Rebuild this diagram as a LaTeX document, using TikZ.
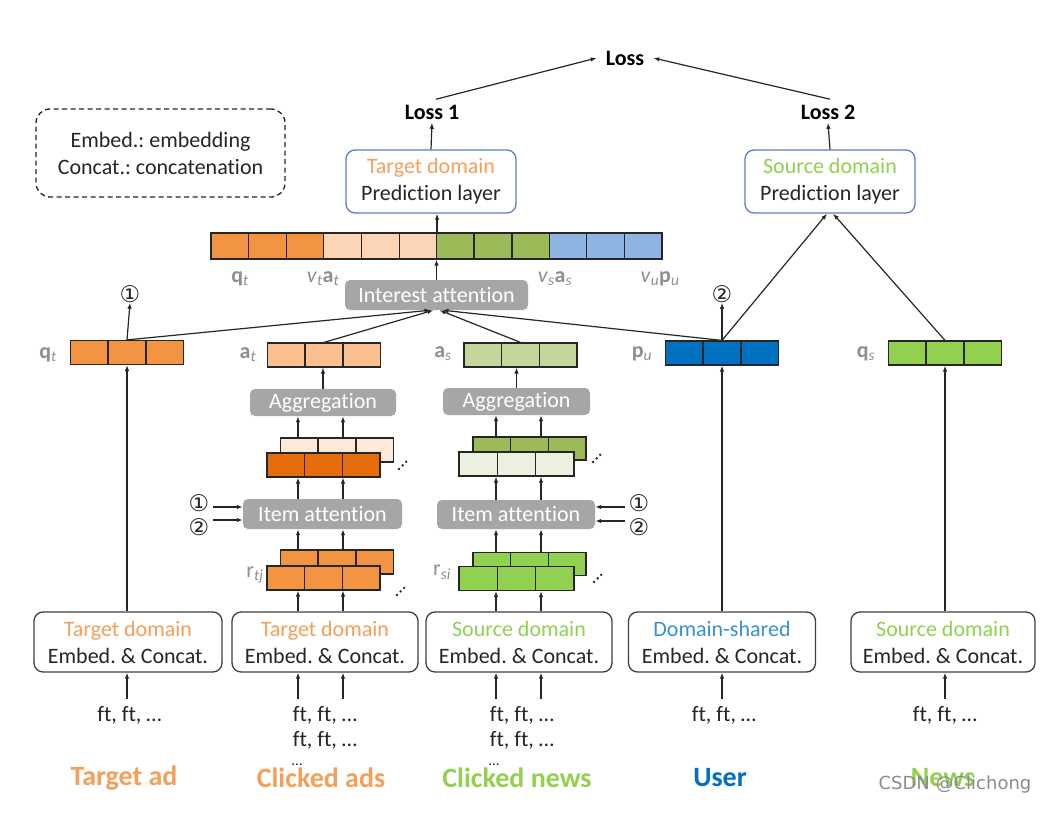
\documentclass[tikz,border=0pt]{standalone}
\usepackage{fontspec}
\setmainfont{Carlito}[Ligatures={NoCommon}]
\newfontfamily\djv{DejaVu Sans}
\frenchspacing
\usetikzlibrary{arrows.meta,calc}
\definecolor{orgA}{HTML}{F39442}
\definecolor{orgL}{HTML}{FAC090}
\definecolor{orgP}{HTML}{FBD5B5}
\definecolor{orgD}{HTML}{E46C0A}
\definecolor{orgVL}{HTML}{FDE9D9}
\definecolor{grnA}{HTML}{92D050}
\definecolor{grnB}{HTML}{9BBB59}
\definecolor{grnL}{HTML}{C3D69B}
\definecolor{grnVL}{HTML}{EBF1DE}
\definecolor{bluA}{HTML}{0070C0}
\definecolor{bluL}{HTML}{8DB4E2}
\definecolor{gbox}{HTML}{A6A6A6}
\definecolor{lblg}{HTML}{8F8F8F}
\definecolor{txo}{HTML}{F4A05A}
\definecolor{txg}{HTML}{92D050}
\definecolor{txb}{HTML}{3A8FD6}
\definecolor{bdr}{HTML}{5B7FBF}
\definecolor{dark}{HTML}{262626}
\newcommand\cellvec[6]{%
  \node[vecbox,fill=#4,minimum width=#5pt,minimum height=#6pt] (#1) at (#2,#3) {};
  \draw[vecl] ($(#1.south west)!0.3333!(#1.south east)$) -- ($(#1.north west)!0.3333!(#1.north east)$);
  \draw[vecl] ($(#1.south west)!0.6667!(#1.south east)$) -- ($(#1.north west)!0.6667!(#1.north east)$);
}
\newcommand\tdots[2]{\foreach \i in {0,1,2}{\fill[dark] ({#1+\i*3.6},{#2-\i*3.6}) circle (1.3pt);}}
\newcommand\sub[1]{\textsubscript{\itshape #1}}
\tikzset{
  base/.style={font=\fontsize{22}{27}\selectfont, text=dark},
  lossl/.style={font=\bfseries\fontsize{22}{26}\selectfont, text=black, inner xsep=9pt},
  embbox/.style={base, draw=black!75, line width=1.3pt, rounded corners=9pt, minimum height=60pt, align=center, inner sep=0pt},
  predbox/.style={base, draw=bdr, line width=1.3pt, rounded corners=9pt, minimum width=170pt, minimum height=63pt, align=center, inner sep=0pt},
  graybox/.style={fill=gbox, rounded corners=5pt, text=white, font=\fontsize{22}{26}\selectfont, inner sep=0pt},
  vecbox/.style={draw=black!85, line width=1.2pt, inner sep=0pt},
  vecl/.style={draw=black!85, line width=1.2pt},
  arr/.style={-{Latex[length=6pt,width=4.5pt]}, line width=1.2pt, draw=black!85},
  glbl/.style={text=lblg, font=\fontsize{22}{26}\selectfont, inner sep=0pt},
  circ/.style={font=\djv\fontsize{23}{25}\selectfont, text=dark, inner sep=0pt},
  ftx/.style={base, inner xsep=0pt, inner ysep=7pt},
  ftb/.style={base, inner sep=0pt},
  bigl/.style={font=\bfseries\fontsize{28}{32}\selectfont}
}
\begin{document}
\begin{tikzpicture}[x=1pt,y=-1pt]
\useasboundingbox (0,0) rectangle (1062,816);
\fill[white] (0,0) rectangle (1062,816);

% ---- top losses
\node[lossl] (loss) at (625,58) {Loss};
\node[lossl] (l1) at (432,112) {Loss 1};
\node[lossl] (l2) at (828,112) {Loss 2};
\draw[arr] ($(l1.north)+(4,-2)$) -- (loss.west);
\draw[arr] ($(l2.north)+(2,-2)$) -- (loss.east);

\node[predbox] (tp) at (431,181.5) {\textcolor{txo}{Target domain}\\Prediction layer};
\node[predbox] (sp) at (830,181.5) {\textcolor{txg}{Source domain}\\Prediction layer};
\draw[arr] (tp.north) -- (l1.south);
\draw[arr] (sp.north) -- (l2.south);

% ---- legend
\node[base, draw=dark, dashed, dash pattern=on 5pt off 3.5pt, line width=1.3pt, rounded corners=14pt,
      minimum width=249pt, minimum height=88pt, align=center] (lg) at (160.5,153)
      {Embed.: embedding\\Concat.: concatenation};

% ---- long concatenated row
\cellvec{rowA}{267.4}{246}{orgA}{112.75}{26}
\cellvec{rowB}{380.1}{246}{orgP}{112.75}{26}
\cellvec{rowC}{492.9}{246}{grnB}{112.75}{26}
\cellvec{rowD}{605.6}{246}{bluL}{112.75}{26}
\node[glbl] (rl1) at (240,279) {\textbf{q}\sub{t}};
\node[glbl] (rl2) at (323,279) {\textit{v}\sub{t}\textbf{a}\sub{t}};
\node[glbl] (rl3) at (555,279) {\textit{v}\sub{s}\textbf{a}\sub{s}};
\node[glbl] (rl4) at (660,279) {\textit{v}\sub{u}\textbf{p}\sub{u}};

\node[graybox, minimum width=183pt, minimum height=30pt] (ia) at (436.5,295) {Interest attention};
\draw[arr] (ia.north) -- (ia.north |- rowB.south);
\draw[arr] (rowB.north east) -- (rowB.north east |- tp.south);

% ---- second row vectors
\cellvec{qt}{127}{352.5}{orgA}{113}{24}
\cellvec{vat}{324}{355}{orgL}{113}{24}
\cellvec{vas}{520.5}{355}{grnL}{113}{24}
\cellvec{pu}{722}{353}{bluA}{113}{24}
\cellvec{qs}{945}{353}{grnA}{113}{24}
\node[glbl] (lq) at (48,355) {\textbf{q}\sub{t}};
\node[glbl] (la) at (248,355) {\textbf{a}\sub{t}};
\node[glbl] (las) at (443,354) {\textbf{a}\sub{s}};
\node[glbl] (lp) at (642,354) {\textbf{p}\sub{u}};
\node[glbl] (lqs) at (866,354) {\textbf{q}\sub{s}};

\draw[arr] (qt.north) -- ($(ia.south)+(-6,0)$);
\draw[arr] (vat.north) -- ($(ia.south)+(-3,0)$);
\draw[arr] (vas.north) -- ($(ia.south)+(3,0)$);
\draw[arr] (pu.north) -- ($(ia.south)+(6,0)$);

\node[circ] (c1t) at (130,294) {①};
\node[circ] (c2t) at (722,294) {②};
\draw[arr] (qt.north) -- (c1t.south);
\draw[arr] (pu.north) -- (c2t.south);
\draw[arr] (pu.north) -- ($(sp.south)+(-3,0)$);
\draw[arr] (qs.north) -- ($(sp.south)+(3,0)$);

% ---- aggregation
\node[graybox, minimum width=146pt, minimum height=27pt] (aggL) at (323,402.5) {Aggregation};
\node[graybox, minimum width=147pt, minimum height=27pt] (aggR) at (516.5,401.5) {Aggregation};
\draw[arr] (aggL.north) -- (aggL.north |- vat.south);
\draw[arr] (aggR.north) -- (aggR.north |- vas.south);

% ---- upper stacks
\cellvec{upLb}{337}{450}{orgVL}{113}{24}
\cellvec{upLf}{323.5}{465}{orgD}{113}{24}
\cellvec{upRb}{529.5}{448.5}{grnB}{113}{23}
\cellvec{upRf}{516.5}{464}{grnVL}{115}{24}
\tdots{399}{469}
\tdots{593}{462}

\coordinate (xa) at (298,0);
\coordinate (xb) at (343,0);
\coordinate (xc) at (496,0);
\coordinate (xd) at (541,0);
\foreach \c in {xa,xb}{\draw[arr] (\c |- upLb.north) -- (\c |- aggL.south);}
\foreach \c in {xc,xd}{\draw[arr] (\c |- upRb.north) -- (\c |- aggR.south);}

% ---- item attention
\node[graybox, minimum width=159pt, minimum height=30pt] (itL) at (322.5,514) {Item attention};
\node[graybox, minimum width=158pt, minimum height=29pt] (itR) at (516,514.5) {Item attention};
\foreach \c in {xa,xb}{\draw[arr] (\c |- itL.north) -- (\c |- upLf.south);}
\foreach \c in {xc,xd}{\draw[arr] (\c |- itR.north) -- (\c |- upRf.south);}

\node[circ] (c1L) at (199,503) {①};
\node[circ] (c2L) at (199,527) {②};
\node[circ] (c1R) at (639,503) {①};
\node[circ] (c2R) at (639,527) {②};
\coordinate (a1) at (213,507);
\coordinate (a2) at (213,520);
\coordinate (a3) at (625,507);
\coordinate (a4) at (625,521);
\draw[arr] (a1) -- (a1 -| itL.west);
\draw[arr] (a2) -- (a2 -| itL.west);
\draw[arr] (a3) -- (a3 -| itR.east);
\draw[arr] (a4) -- (a4 -| itR.east);

% ---- lower stacks
\cellvec{loLb}{337}{562}{orgA}{113}{24}
\cellvec{loLf}{323.5}{578}{orgA}{113}{24}
\cellvec{loRb}{529.5}{564}{grnA}{113}{23}
\cellvec{loRf}{516.5}{578.5}{grnA}{115}{24}
\tdots{397}{595}
\tdots{594}{582}
\node[glbl] (lr1) at (255,575) {r\sub{tj}};
\node[glbl] (lr2) at (442,572) {r\sub{si}};
\foreach \c in {xa,xb}{\draw[arr] (\c |- loLb.north) -- (\c |- itL.south);}
\foreach \c in {xc,xd}{\draw[arr] (\c |- loRb.north) -- (\c |- itR.south);}

% ---- embedding boxes
\node[embbox, minimum width=188pt] (e1) at (128,642) {\textcolor{txo}{Target domain}\\Embed. \& Concat.};
\node[embbox, minimum width=186pt] (e2) at (325,642) {\textcolor{txo}{Target domain}\\Embed. \& Concat.};
\node[embbox, minimum width=186pt] (e3) at (519,642) {\textcolor{txg}{Source domain}\\Embed. \& Concat.};
\node[embbox, minimum width=187pt] (e4) at (722,642) {\textcolor{txb}{Domain-shared}\\Embed. \& Concat.};
\node[embbox, minimum width=184pt] (e5) at (943,642) {\textcolor{txg}{Source domain}\\Embed. \& Concat.};

\draw[arr] (qt.south |- e1.north) -- (qt.south);
\draw[arr] (pu.south |- e4.north) -- (pu.south);
\draw[arr] (qs.south |- e5.north) -- (qs.south);
\foreach \c in {xa,xb}{\draw[arr] (\c |- e2.north) -- (\c |- loLf.south);}
\foreach \c in {xc,xd}{\draw[arr] (\c |- e3.north) -- (\c |- loRf.south);}

% ---- inputs
\node[ftx] (f1) at (129.5,715) {ft, ft, …};
\node[ftx] (f2a) at (325,715) {ft, ft, …};
\node[ftb] (f2b) at (325,740) {ft, ft, …};
\node[font=\fontsize{15}{17}\selectfont, text=dark, inner sep=0pt, anchor=base] (f2c) at (297,765) {…};
\node[ftx] (f3a) at (522,715) {ft, ft, …};
\node[ftb] (f3b) at (522,740) {ft, ft, …};
\node[font=\fontsize{15}{17}\selectfont, text=dark, inner sep=0pt, anchor=base] (f3c) at (494,765) {…};
\node[ftx] (f4) at (724,715) {ft, ft, …};
\node[ftx] (f5) at (945,715) {ft, ft, …};
\draw[arr] (qt.south |- f1.north) -- (qt.south |- e1.south);
\foreach \c in {xa,xb}{\draw[arr] (\c |- f2a.north) -- (\c |- e2.south);}
\foreach \c in {xc,xd}{\draw[arr] (\c |- f3a.north) -- (\c |- e3.south);}
\draw[arr] (pu.south |- f4.north) -- (pu.south |- e4.south);
\draw[arr] (qs.south |- f5.north) -- (qs.south |- e5.south);

% ---- bottom labels
\node[bigl, text=txo] (n1) at (124,778) {Target ad};
\node[bigl, text=txo] (n2) at (321,778) {Clicked ads};
\node[bigl, text=txg] (n3) at (517,778) {Clicked news};
\node[bigl, text=bluA] (n4) at (720,778) {User};
\node[bigl, text=txg] (n5) at (943,778) {News};
\node[font=\djv\fontsize{18}{20}\selectfont, text=black!45] (wm) at (955,785) {CSDN @Clichong};
\end{tikzpicture}
\end{document}
